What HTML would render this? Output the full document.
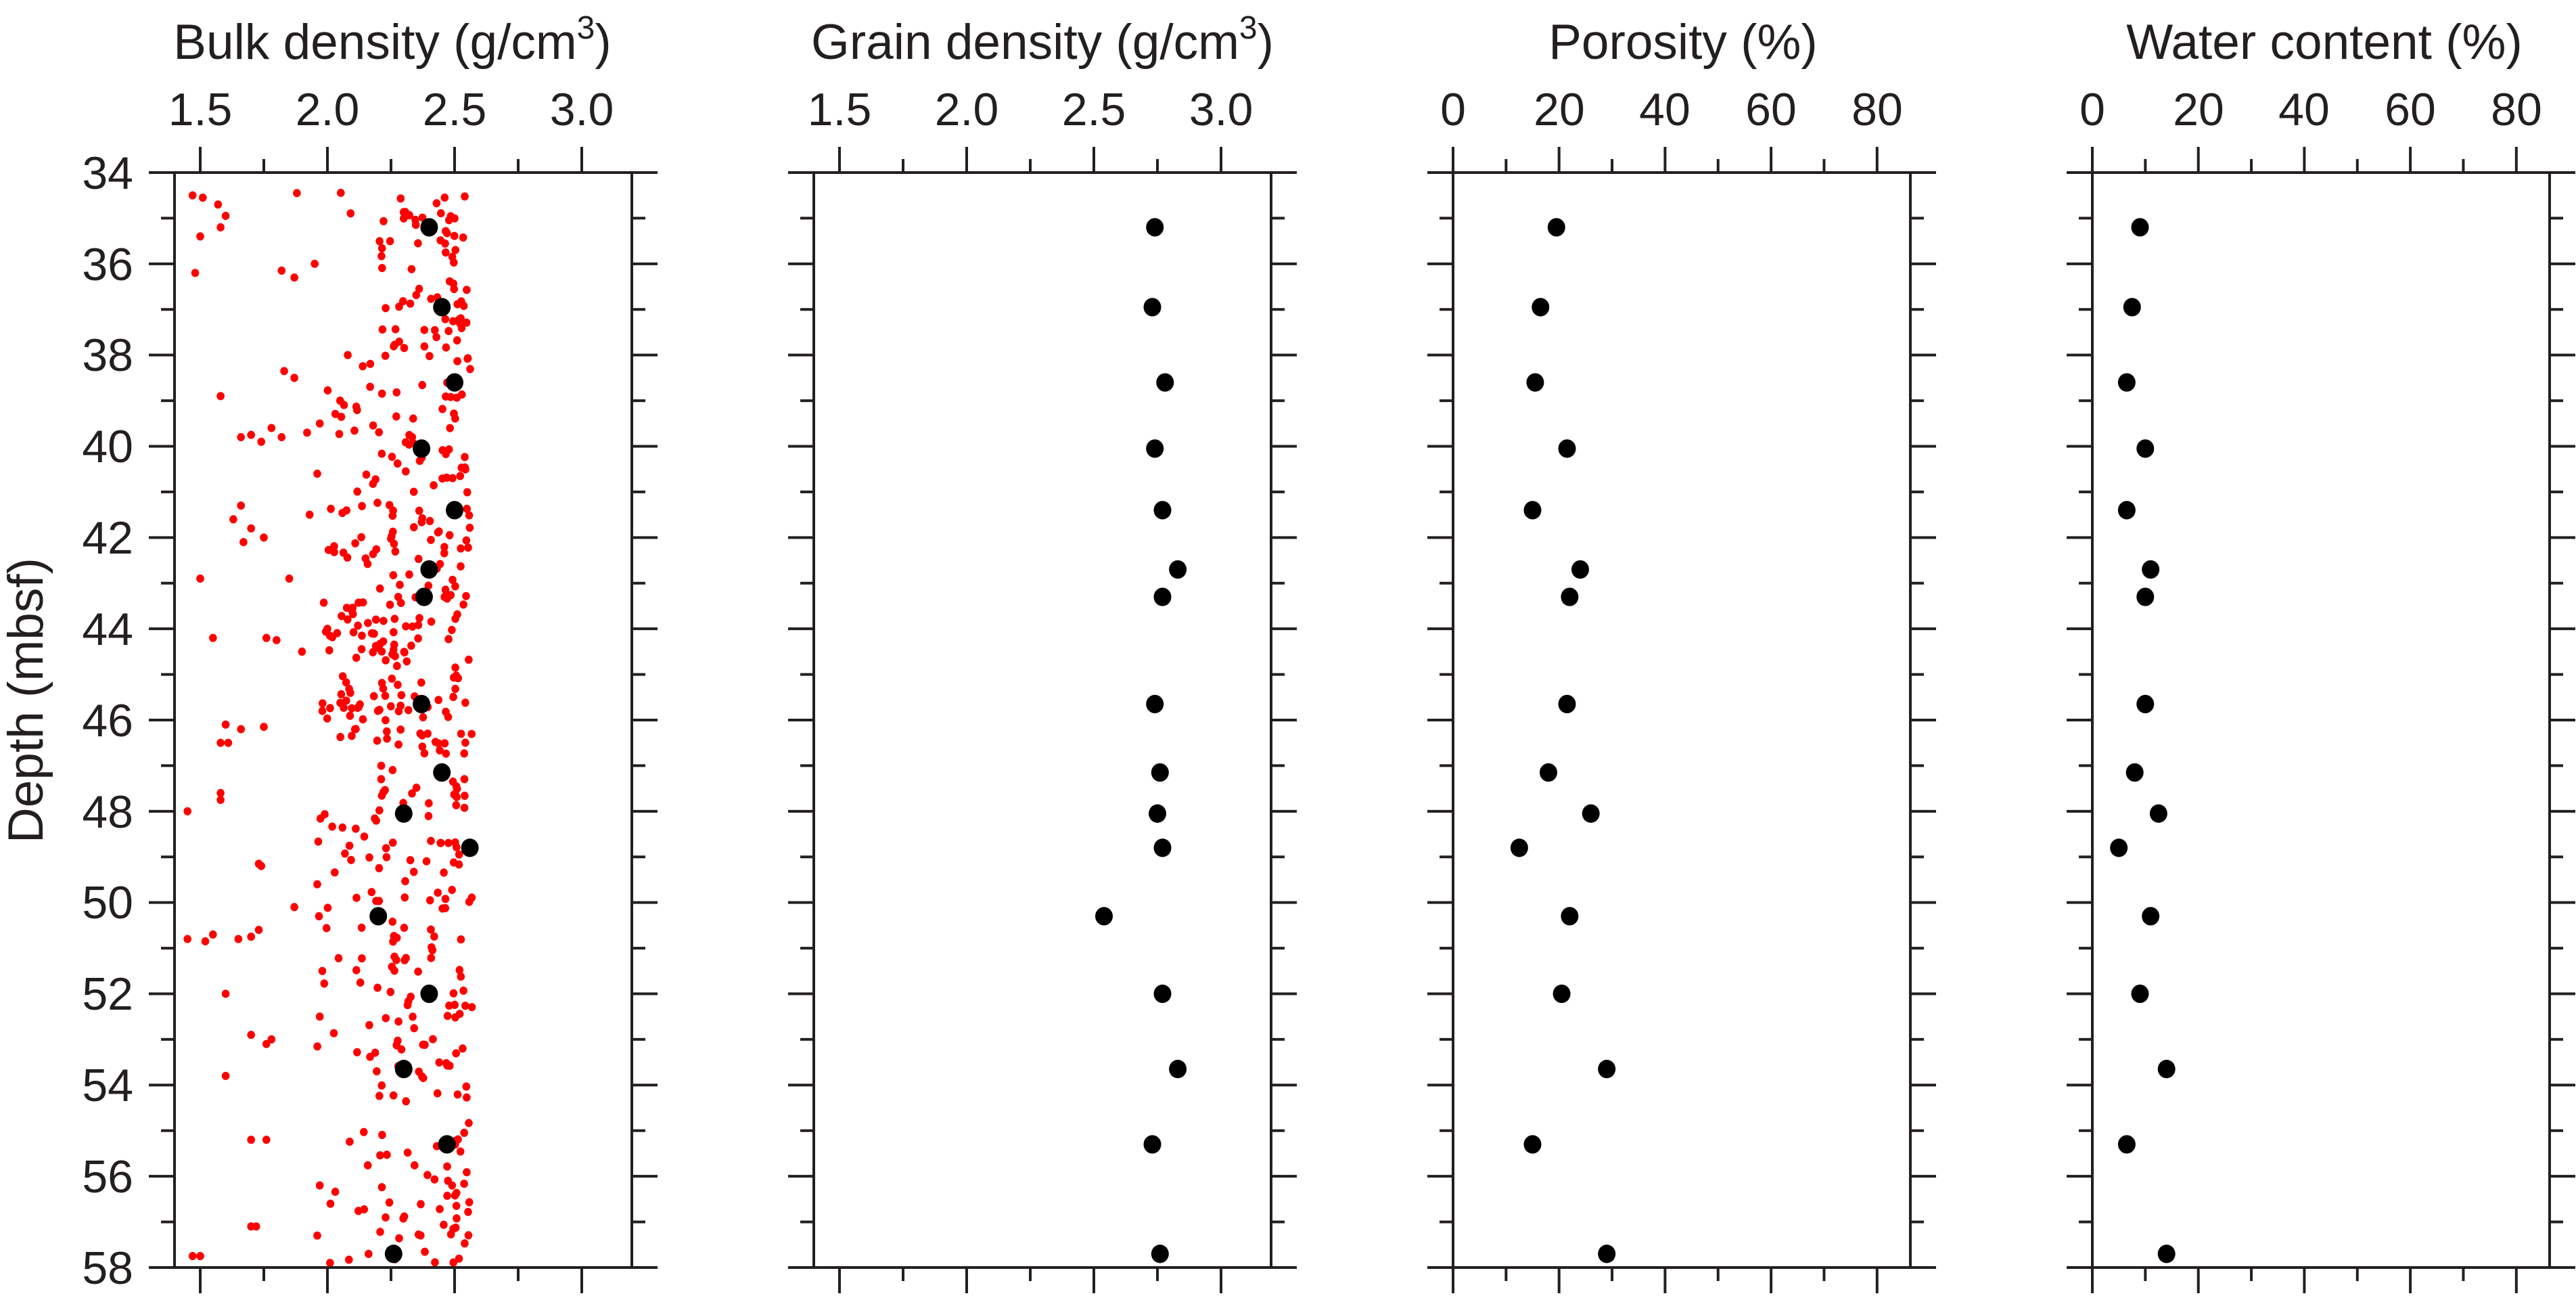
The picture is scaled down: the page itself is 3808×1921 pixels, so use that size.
<!DOCTYPE html>
<html><head><meta charset="utf-8"><style>
html,body{margin:0;padding:0;background:#fff;}
svg{display:block;}
text{font-family:"Liberation Sans",Arial,sans-serif;fill:#231f20;}
</style></head><body>
<svg id="s" width="3808" height="1921" viewBox="0 0 3808 1921" xmlns="http://www.w3.org/2000/svg">
<rect width="3808" height="1921" fill="#fff"/>
<g id="dots"></g>
<g id="axes" stroke="#231f20" stroke-width="4" fill="none"></g>
<g font-size="73" text-anchor="middle">
<text x="580" y="87">Bulk density (g/cm<tspan font-size="48" dy="-30">3</tspan><tspan dy="30">)</tspan></text>
<text x="1541" y="87">Grain density (g/cm<tspan font-size="48" dy="-30">3</tspan><tspan dy="30">)</tspan></text>
<text x="2488" y="87">Porosity (%)</text>
<text x="3436" y="87">Water content (%)</text>
<text transform="translate(63,1035) rotate(-90)">Depth (mbsf)</text>
</g>
<g font-size="68" text-anchor="middle">
<text x="296" y="185">1.5</text><text x="484" y="185">2.0</text><text x="672" y="185">2.5</text><text x="860" y="185">3.0</text>
<text x="1241" y="185">1.5</text><text x="1429" y="185">2.0</text><text x="1617" y="185">2.5</text><text x="1805" y="185">3.0</text>
<text x="2148" y="185">0</text><text x="2305" y="185">20</text><text x="2461" y="185">40</text><text x="2618" y="185">60</text><text x="2775" y="185">80</text>
<text x="3093" y="185">0</text><text x="3250" y="185">20</text><text x="3406" y="185">40</text><text x="3563" y="185">60</text><text x="3720" y="185">80</text>
</g>
<g font-size="68" text-anchor="end">
<text x="197" y="279">34</text><text x="197" y="414">36</text><text x="197" y="548">38</text><text x="197" y="683">40</text>
<text x="197" y="818">42</text><text x="197" y="953">44</text><text x="197" y="1088">46</text><text x="197" y="1223">48</text>
<text x="197" y="1357">50</text><text x="197" y="1492">52</text><text x="197" y="1627">54</text><text x="197" y="1762">56</text>
<text x="197" y="1897">58</text>
</g>
</svg>
<script>
(function(){
var NS="http://www.w3.org/2000/svg";
var TOP=255,BOT=1873,PPM=(BOT-TOP)/24;
function Y(d){return TOP+(d-34)*PPM;}
var lefts=[258,1203,2148,3093],W=676;
var ax=document.getElementById('axes'),dg=document.getElementById('dots');
function line(x1,y1,x2,y2){var l=document.createElementNS(NS,'line');l.setAttribute('x1',x1);l.setAttribute('y1',y1);l.setAttribute('x2',x2);l.setAttribute('y2',y2);ax.appendChild(l);}
function circ(cx,cy,r,c){var e=document.createElementNS(NS,'ellipse');e.setAttribute('cx',cx.toFixed(1));e.setAttribute('cy',cy.toFixed(1));e.setAttribute('rx',r);e.setAttribute('ry',r*1.05);e.setAttribute('fill',c);dg.appendChild(e);}
lefts.forEach(function(L,i){
  var R=L+W;
  var r=document.createElementNS(NS,'rect');r.setAttribute('x',L);r.setAttribute('y',TOP);r.setAttribute('width',W);r.setAttribute('height',BOT-TOP);ax.appendChild(r);
  for(var d=34;d<=58;d++){var len=(d%2==0)?38:20;var y=Y(d);line(L-len,y,L,y);line(R,y,R+len,y);}
  var ticks=[];
  if(i<2){var ppu=376,x0=L+38;for(var k=0;k<=6;k++){ticks.push([x0+k*ppu*0.25,k%2==0]);}}
  else{var ppu2=7.835;for(var k=0;k<=8;k++){ticks.push([L+k*10*ppu2,k%2==0]);}}
  ticks.forEach(function(t){var len=t[1]?38:20;line(t[0],TOP-len,t[0],TOP);line(t[0],BOT,t[0],BOT+len);});
});
var s=12345;function rnd(){s|=0;s=s+0x6D2B79F5|0;var t=Math.imul(s^s>>>15,1|s);t=t+Math.imul(t^t>>>7,61|t)^t;return((t^t>>>14)>>>0)/4294967296;}
function BX(v){return 296+(v-1.5)*376;}
var bands=[[34.4,35,2.05],[35,38,2.2],[38,39.8,2.0],[39.8,41,2.15],[41,42.5,2.0],[42.5,43.4,2.2],[43.4,44.2,1.95],[44.2,46.5,2.05],[46.5,48,2.15],[48,50.5,1.95],[50.5,53.5,1.95],[53.5,55,2.15],[55,57,2.0],[57,57.9,1.95]];
bands.forEach(function(b){
  var n=Math.round((b[1]-b[0])*20);
  for(var k=0;k<n;k++){
    var d=b[0]+rnd()*(b[1]-b[0]);
    if(d>54.3&&d<55.0&&rnd()<0.6)continue;
    var right=2.5+rnd()*0.07;
    var u=rnd();var v=right-(right-b[2])*Math.pow(u,1.6);
    circ(BX(v),Y(d),5.8,'#ff0000');
  }
});
// extra cluster 43.4-46.5 at 1.98-2.3
for(var k=0;k<55;k++){var d=43.4+rnd()*3.1;var v=1.98+rnd()*0.32;circ(BX(v),Y(d),5.8,'#ff0000');}
for(var k=0;k<15;k++){var d=40.5+rnd()*2.5;var v=2.0+rnd()*0.3;circ(BX(v),Y(d),5.8,'#ff0000');}
var out=[[34.5,1.47],[34.55,1.51],[34.7,1.57],[34.95,1.6],[35.2,1.58],[34.45,1.88],[35.4,1.5],[36.2,1.48],[36.3,1.87],[36.15,1.82],[36.0,1.95],[38.9,1.58],[38.35,1.83],[38.5,1.87],[39.8,1.66],[39.75,1.70],[39.9,1.74],[39.6,1.78],[39.8,1.82],[39.7,1.92],[39.5,1.97],[41.3,1.66],[41.6,1.63],[41.8,1.7],[42.1,1.67],[42.0,1.75],[41.5,1.93],[42.9,1.5],[42.9,1.85],[44.2,1.55],[44.2,1.76],[44.25,1.8],[44.5,1.9],[46.1,1.6],[46.2,1.66],[46.5,1.58],[46.5,1.61],[46.15,1.75],[47.6,1.58],[47.75,1.58],[48.0,1.45],[49.15,1.73],[49.2,1.74],[50.8,1.45],[50.85,1.52],[50.7,1.55],[50.8,1.65],[50.75,1.7],[50.6,1.73],[50.1,1.87],[52.0,1.6],[52.9,1.7],[53.0,1.78],[53.1,1.76],[53.8,1.6],[55.2,1.7],[55.2,1.76],[57.1,1.7],[57.1,1.72],[57.75,1.47],[57.75,1.5],[38.0,2.08],[39.0,2.05],[40.6,1.96],[44.0,2.0],[45.8,1.98],[49.6,1.96],[51.5,1.98],[52.5,1.97],[56.2,1.97],[57.3,1.96]];
out.forEach(function(p){circ(BX(p[1]),Y(p[0]),5.8,'#ff0000');});
var D=[35.2,36.95,38.6,40.05,41.4,42.7,43.3,45.65,47.15,48.05,48.8,50.3,52.0,53.65,55.3,57.7];
var bulk=[2.40,2.45,2.50,2.37,2.50,2.40,2.38,2.37,2.45,2.30,2.56,2.20,2.40,2.30,2.47,2.26];
var grain=[2.74,2.73,2.78,2.74,2.77,2.83,2.77,2.74,2.76,2.75,2.77,2.54,2.77,2.83,2.73,2.76];
var por=[19.5,16.5,15.5,21.5,15,24,22,21.5,18,26,12.5,22,20.5,29,15,29];
var wat=[9,7.5,6.5,10,6.5,11,10,10,8,12.5,5,11,9,14,6.5,14];
for(var k=0;k<D.length;k++){
  var y=Y(D[k]);
  circ(BX(bulk[k]),y,13,'#000');
  circ(1241+(grain[k]-1.5)*376,y,13,'#000');
  circ(2148+por[k]*7.835,y,13,'#000');
  circ(3093+wat[k]*7.835,y,13,'#000');
}
})();
</script>
</body></html>
